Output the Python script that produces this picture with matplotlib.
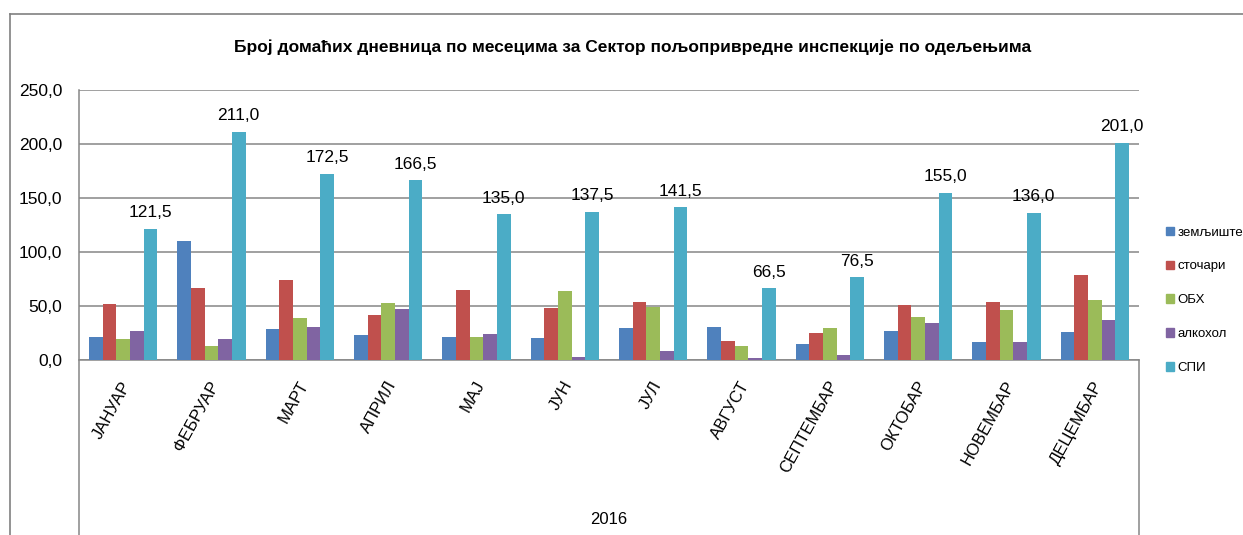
import matplotlib
matplotlib.use('Agg')
import matplotlib.pyplot as plt
from matplotlib.lines import Line2D
from matplotlib.patches import Patch
import numpy as np

plt.rcParams['font.family'] = ['Liberation Sans', 'DejaVu Sans']

# Monthly per-diem counts by department, 2016
months = ['ЈАНУАР', 'ФЕБРУАР', 'МАРТ', 'АПРИЛ', 'МАЈ', 'ЈУН', 'ЈУЛ',
          'АВГУСТ', 'СЕПТЕМБАР', 'ОКТОБАР', 'НОВЕМБАР', 'ДЕЦЕМБАР']
series_names = ['земљиште', 'сточари', 'ОБХ', 'алкохол', 'СПИ']
zemljiste = [21, 110, 28.5, 23, 21, 20, 29.5, 31, 15, 27, 16.5, 26]
stocari = [51.5, 66.5, 74, 41.5, 64.5, 48.5, 53.5, 18, 25, 50.5, 53.5, 78.5]
obh = [19, 13, 38.5, 52.5, 21, 63.5, 49, 13, 29.5, 40, 46.5, 56]
alkohol = [27, 19, 30.5, 47.5, 24.5, 3, 8, 1.5, 4.5, 34, 16.5, 37]
spi = [121.5, 211, 172.5, 166.5, 135, 137.5, 141.5, 66.5, 76.5, 155, 136, 201]
year_label = '2016'
title = 'Број домаћих дневница по месецима за Сектор пољопривредне инспекције по одељењима'

colors = ['#4F81BD', '#C0504D', '#9BBB59', '#8064A2', '#4BACC6']
grid_gray = '#868686'


def fmt(v):
    return f'{v:.1f}'.replace('.', ',')


W, H = 1243, 535
fig = plt.figure(figsize=(W / 100, H / 100), dpi=100)
ax = fig.add_axes([79 / W, 1 - 360 / H, (1139 - 79) / W, 270 / H])

x = np.arange(len(months))
bw = 0.154
data = [zemljiste, stocari, obh, alkohol, spi]
for i, (vals, c) in enumerate(zip(data, colors)):
    ax.bar(x + (i - 2) * bw, vals, width=bw, color=c, zorder=3)

# value labels above the СПИ bars
for xi, v in zip(x, spi):
    ax.text(xi + 2 * bw, v + 8, fmt(v), ha='center', va='bottom', fontsize=12.5)

ax.set_xlim(-0.5, len(months) - 0.5)
ax.set_ylim(0, 250)
ax.set_yticks(np.arange(0, 251, 50))
ax.set_yticklabels([fmt(t) for t in np.arange(0, 251, 50)], fontsize=12.5)
ax.yaxis.grid(True, color=grid_gray, linewidth=1.1, zorder=0)
ax.tick_params(axis='y', length=0, pad=12)

ax.set_xticks(x + 0.05)
ax.set_xticklabels(months, rotation=61, ha='right', va='center',
                   rotation_mode='anchor', fontsize=12)
ax.tick_params(axis='x', length=0, pad=16)

for side in ['top', 'right']:
    ax.spines[side].set_visible(False)
ax.spines['bottom'].set_color(grid_gray)
ax.spines['bottom'].set_linewidth(1.1)
ax.spines['left'].set_visible(False)

# category separators running down through the label area
tr = ax.get_xaxis_transform()
ax.plot([-0.5, -0.5], [1, -0.7], transform=tr, color=grid_gray, lw=1.1, clip_on=False)
ax.plot([11.5, 11.5], [0, -0.7], transform=tr, color=grid_gray, lw=1.1, clip_on=False)

ax.text(0.5, -0.59, year_label, transform=ax.transAxes, ha='center', va='center', fontsize=12)

fig.text(633 / W, 1 - 47 / H, title, ha='center', va='center', fontsize=12.5, fontweight='bold')

handles = [Patch(color=c) for c in colors]
fig.legend(handles, series_names, loc='upper left', bbox_to_anchor=(1166 / W, 1 - 226.5 / H),
           frameon=False, fontsize=9.5, handlelength=0.6, handleheight=0.6,
           handletextpad=0.3, labelspacing=1.66, borderpad=0, borderaxespad=0)

# chart border
fig.add_artist(Line2D([10 / W, 1], [1 - 14 / H, 1 - 14 / H], color='#808080', lw=1.2))
fig.add_artist(Line2D([10 / W, 10 / W], [0, 1 - 14 / H], color='#808080', lw=1.2))

fig.savefig('out.png', dpi=100)
